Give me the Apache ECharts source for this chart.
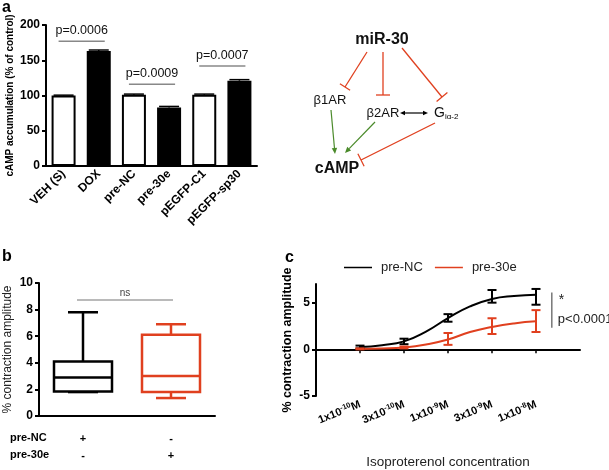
<!DOCTYPE html>
<html><head><meta charset="utf-8">
<script src="https://cdn.jsdelivr.net/npm/echarts@6/dist/echarts.min.js"></script>
<style>html,body{margin:0;padding:0;background:#fff}#c{width:609px;height:470px}</style>
</head><body><div id="c"></div>
<script>
// ---------- Panel a data ----------
const aCategories = ['VEH (S)', 'DOX', 'pre-NC', 'pre-30e', 'pEGFP-C1', 'pEGFP-sp30'];
const aValues = [100, 163, 101, 83, 101, 121];
const aErrors = [0.5, 1.5, 1, 1.5, 1, 1.5];
const aFilled = [false, true, false, true, false, true];
const aSigPairs = [[0, 1], [2, 3], [4, 5]];
const aSigHeights = [177, 116, 142];
const aSigLabels = ['p=0.0006', 'p=0.0009', 'p=0.0007'];

// ---------- Panel b data ----------
const bGroups = ['pre-NC', 'pre-30e'];
const bBoxes = [[1.8, 1.85, 2.9, 4.1, 7.8], [1.35, 1.8, 3.0, 6.1, 6.9]];
const bRowNC = ['+', '-'];
const bRow30e = ['-', '+'];
const bNsHeight = 8.72;

// ---------- Panel c data ----------
const cConcMantissa = ['1x10', '3x10', '1x10', '3x10', '1x10'];
const cConcExponent = ['-10', '-10', '-9', '-9', '-8'];
const cMeansNC = [0.25, 0.85, 3.4, 5.5, 5.85];
const cLoNC = [0.1, 0.55, 2.96, 5.0, 4.78];
const cHiNC = [0.4, 1.14, 3.77, 6.36, 6.47];
const cMeans30e = [0.05, 0.2, 1.1, 2.45, 3.05];
const cLo30e = [0.0, 0.1, 0.48, 1.64, 1.86];
const cHi30e = [0.1, 0.3, 1.75, 3.33, 4.2];
const cFitX = [0, 0.5, 1, 1.5, 2, 2.5, 3, 3.5, 4];
const cFitNC = [0.25, 0.45, 0.85, 1.9, 3.35, 4.6, 5.4, 5.72, 5.85];
const cFit30e = [0.03, 0.08, 0.2, 0.52, 1.05, 1.85, 2.4, 2.78, 3.0];

const RED = '#e0401f';
const FONT = 'Liberation Sans, Arial, sans-serif';

const chart = echarts.init(document.getElementById('c'), null, {renderer: 'canvas'});

function tbar(x1, y1, x2, y2, h) {
  const dx = x2 - x1, dy = y2 - y1, L = Math.hypot(dx, dy);
  const px = -dy / L * h, py = dx / L * h;
  return [
    {type: 'line', shape: {x1, y1, x2, y2}, style: {stroke: RED, lineWidth: 1.3}},
    {type: 'line', shape: {x1: x2 + px, y1: y2 + py, x2: x2 - px, y2: y2 - py}, style: {stroke: RED, lineWidth: 1.3}}
  ];
}
function arrowHead(tx, ty, ux, uy, size, color) {
  const bx = tx - ux * size, by = ty - uy * size;
  const px = -uy * size * 0.45, py = ux * size * 0.45;
  return {type: 'polygon', shape: {points: [[tx, ty], [bx + px, by + py], [bx - px, by - py]]}, style: {fill: color}};
}
function arrow(x1, y1, x2, y2, color, size, both) {
  const dx = x2 - x1, dy = y2 - y1, L = Math.hypot(dx, dy);
  const ux = dx / L, uy = dy / L;
  const out = [{type: 'line', shape: {x1: both ? x1 + ux * size : x1, y1: both ? y1 + uy * size : y1, x2: x2 - ux * size, y2: y2 - uy * size}, style: {stroke: color, lineWidth: 1.2}}];
  out.push(arrowHead(x2, y2, ux, uy, size, color));
  if (both) out.push(arrowHead(x1, y1, -ux, -uy, size, color));
  return out;
}

const diagram = [].concat(
  tbar(367, 52, 345, 87, 6),
  tbar(383, 52, 383, 95, 7),
  tbar(402, 48, 442, 97, 7),
  tbar(435, 123, 361, 160, 7),
  arrow(331, 110, 335, 154, '#4a8a2a', 6),
  arrow(375, 122, 345, 153, '#4a8a2a', 6),
  arrow(400, 113, 428, 113, '#000', 5, true),
  [
    {type: 'text', style: {text: 'miR-30', x: 382, y: 40, align: 'center', verticalAlign: 'middle', font: 'bold 16px ' + FONT, fill: '#111'}},
    {type: 'text', style: {text: 'β1AR', x: 330, y: 100, align: 'center', verticalAlign: 'middle', font: '13px ' + FONT, fill: '#111'}},
    {type: 'text', style: {text: 'β2AR', x: 383, y: 113, align: 'center', verticalAlign: 'middle', font: '13px ' + FONT, fill: '#111'}},
    {type: 'text', style: {text: '{g|G}{s|iα-2}', x: 434, y: 113, verticalAlign: 'middle', rich: {g: {fontSize: 14, fontFamily: FONT, fill: '#111', color: '#111'}, s: {fontSize: 8, fontFamily: FONT, color: '#111', padding: [8, 0, 0, 0]}}}},
    {type: 'text', style: {text: 'cAMP', x: 337, y: 169, align: 'center', verticalAlign: 'middle', font: 'bold 16px ' + FONT, fill: '#111'}}
  ]
);

const panelLabels = [
  {type: 'text', style: {text: 'a', x: 2, y: 0, font: 'bold 16px ' + FONT, fill: '#000'}},
  {type: 'text', style: {text: 'b', x: 2, y: 249, font: 'bold 16px ' + FONT, fill: '#000'}},
  {type: 'text', style: {text: 'c', x: 285, y: 250, font: 'bold 16px ' + FONT, fill: '#000'}},
  {type: 'text', style: {text: bGroups[0], x: 10, y: 438, verticalAlign: 'middle', font: 'bold 11px ' + FONT, fill: '#000'}},
  {type: 'text', style: {text: bGroups[1], x: 10, y: 455, verticalAlign: 'middle', font: 'bold 11px ' + FONT, fill: '#000'}}
];

const axisLineStyle = {color: '#000', width: 2};
const boldLabel = {color: '#000', fontWeight: 'bold', fontSize: 12, fontFamily: FONT};

const option = {
  animation: false,
  backgroundColor: '#fff',
  textStyle: {fontFamily: FONT},
  grid: [
    {left: 46, top: 25, width: 211, height: 141},
    {left: 39, top: 283, width: 176, height: 133},
    {left: 316, top: 284, width: 264, height: 182}
  ],
  legend: {
    data: ['pre-NC', 'pre-30e'], left: 339, top: 256, icon: 'rect', itemWidth: 28, itemHeight: 1.5, itemGap: 12,
    textStyle: {fontSize: 13, color: '#222', fontFamily: FONT, padding: [0, 0, 0, 4]}
  },
  xAxis: [
    {gridIndex: 0, type: 'category', data: aCategories, boundaryGap: true,
     axisLine: {lineStyle: axisLineStyle}, axisTick: {show: false},
     axisLabel: Object.assign({rotate: 45, interval: 0, margin: 6}, boldLabel)},
    {gridIndex: 1, type: 'category', data: bGroups, boundaryGap: true,
     axisLine: {lineStyle: axisLineStyle}, axisTick: {alignWithLabel: true, length: 5, lineStyle: {width: 2, color: '#000'}},
     axisLabel: {margin: 14, interval: 0, color: '#000', fontWeight: 'bold', fontSize: 11, lineHeight: 17,
       formatter: (v, i) => bRowNC[i] + '\n' + bRow30e[i]}},
    {gridIndex: 2, type: 'value', min: -1, max: 5, interval: 1,
     axisLine: {onZero: true, lineStyle: axisLineStyle},
     axisTick: {length: 4, lineStyle: {width: 1.5, color: '#000'}, customValues: [0, 1, 2, 3, 4]},
     splitLine: {show: false},
     axisLabel: {rotate: 22, margin: 8, color: '#000', customValues: [0, 1, 2, 3, 4],
       formatter: v => { const i = Math.round(v); return cConcMantissa[i] + '{s|' + cConcExponent[i] + '}M'; },
       fontWeight: 'bold', fontSize: 11, fontFamily: FONT, lineHeight: 14,
       rich: {s: {fontSize: 7.5, fontWeight: 'bold', fontFamily: FONT, color: '#000', verticalAlign: 'top', lineHeight: 8}}},
     name: 'Isoproterenol concentration', nameLocation: 'middle', nameGap: 59,
     nameTextStyle: {fontSize: 13.5, color: '#222', fontFamily: FONT}}
  ],
  yAxis: [
    {gridIndex: 0, type: 'value', min: 0, max: 200, interval: 50,
     axisLine: {show: true, lineStyle: axisLineStyle}, axisTick: {show: true, length: 4, lineStyle: {width: 2, color: '#000'}},
     splitLine: {show: false}, axisLabel: Object.assign({margin: 6}, boldLabel),
     name: 'cAMP accumulation (% of control)', nameLocation: 'middle', nameGap: 31,
     nameTextStyle: {fontSize: 10, fontWeight: 'bold', color: '#000', fontFamily: FONT}},
    {gridIndex: 1, type: 'value', min: 0, max: 10, interval: 2,
     axisLine: {show: true, lineStyle: axisLineStyle}, axisTick: {show: true, length: 4, lineStyle: {width: 2, color: '#000'}},
     splitLine: {show: false}, axisLabel: Object.assign({margin: 6}, boldLabel),
     name: '% contraction amplitude', nameLocation: 'middle', nameGap: 25,
     nameTextStyle: {fontSize: 12, color: '#222', fontFamily: FONT}},
    {gridIndex: 2, type: 'value', min: -5, max: 7,
     axisLine: {show: true, onZero: false, lineStyle: axisLineStyle},
     axisTick: {show: true, length: 4, lineStyle: {width: 2, color: '#000'}, customValues: [-5, 0, 5]},
     splitLine: {show: false},
     axisLabel: Object.assign({margin: 6, customValues: [-5, 0, 5]}, boldLabel),
     name: '% contraction amplitude', nameLocation: 'middle', nameGap: 22,
     nameTextStyle: {fontSize: 12.5, fontWeight: 'bold', color: '#000', fontFamily: FONT}}
  ],
  graphic: panelLabels.concat(diagram),
  series: [
    // Panel a bars
    {type: 'bar', xAxisIndex: 0, yAxisIndex: 0, barWidth: 24,
     data: aValues.map((v, i) => ({value: v, itemStyle: {color: aFilled[i] ? '#000' : '#fff', borderColor: '#000', borderWidth: 2}}))},
    // Panel a error bars
    {type: 'custom', xAxisIndex: 0, yAxisIndex: 0, z: 5,
     data: aValues.map((v, i) => [i, v, aErrors[i]]),
     renderItem(params, api) {
       const p0 = api.coord([api.value(0), api.value(1)]);
       const p1 = api.coord([api.value(0), api.value(1) + api.value(2)]);
       return {type: 'group', children: [
         {type: 'line', shape: {x1: p0[0], y1: p0[1], x2: p1[0], y2: p1[1]}, style: {stroke: '#000', lineWidth: 1.5}},
         {type: 'line', shape: {x1: p1[0] - 10, y1: p1[1], x2: p1[0] + 10, y2: p1[1]}, style: {stroke: '#000', lineWidth: 1.5}}
       ]};
     }},
    // Panel a significance
    {type: 'custom', xAxisIndex: 0, yAxisIndex: 0, z: 6,
     data: aSigPairs.map((p, i) => [p[0], p[1], aSigHeights[i]]),
     renderItem(params, api) {
       const a = api.coord([api.value(0), api.value(2)]);
       const b = api.coord([api.value(1), api.value(2)]);
       const x1 = a[0] - 5, x2 = b[0] + 6;
       return {type: 'group', children: [
         {type: 'line', shape: {x1, y1: a[1], x2, y2: a[1]}, style: {stroke: '#888', lineWidth: 1.5}},
         {type: 'text', style: {text: aSigLabels[params.dataIndex], x: (x1 + x2) / 2, y: a[1] - 4, align: 'center', verticalAlign: 'bottom', font: '12.5px ' + FONT, fill: '#111'}}
       ]};
     }},
    // Panel b boxes
    {type: 'custom', xAxisIndex: 1, yAxisIndex: 1,
     data: bBoxes.map((b, i) => [i].concat(b)),
     renderItem(params, api) {
       const i = api.value(0);
       const color = params.dataIndex === 0 ? '#000' : RED;
       const pMin = api.coord([i, api.value(1)]), pQ1 = api.coord([i, api.value(2)]), pMed = api.coord([i, api.value(3)]),
             pQ3 = api.coord([i, api.value(4)]), pMax = api.coord([i, api.value(5)]);
       const x = pMin[0], hw = 29, cw = 15;
       const st = {stroke: color, lineWidth: 2.5, fill: 'none'};
       return {type: 'group', children: [
         {type: 'line', shape: {x1: x, y1: pQ3[1], x2: x, y2: pMax[1]}, style: st},
         {type: 'line', shape: {x1: x - cw, y1: pMax[1], x2: x + cw, y2: pMax[1]}, style: st},
         {type: 'line', shape: {x1: x, y1: pQ1[1], x2: x, y2: pMin[1]}, style: st},
         {type: 'line', shape: {x1: x - cw, y1: pMin[1], x2: x + cw, y2: pMin[1]}, style: st},
         {type: 'rect', shape: {x: x - hw, y: pQ3[1], width: 2 * hw, height: pQ1[1] - pQ3[1]}, style: {stroke: color, lineWidth: 2.5, fill: '#fff'}},
         {type: 'line', shape: {x1: x - hw, y1: pMed[1], x2: x + hw, y2: pMed[1]}, style: st}
       ]};
     }},
    // Panel b ns
    {type: 'custom', xAxisIndex: 1, yAxisIndex: 1,
     data: [[0, 1, bNsHeight]],
     renderItem(params, api) {
       const a = api.coord([api.value(0), api.value(2)]);
       const b = api.coord([api.value(1), api.value(2)]);
       const x1 = a[0] - 6, x2 = b[0] + 2;
       return {type: 'group', children: [
         {type: 'line', shape: {x1, y1: a[1], x2, y2: a[1]}, style: {stroke: '#777', lineWidth: 1.2}},
         {type: 'text', style: {text: 'ns', x: (x1 + x2) / 2, y: a[1] - 2, align: 'center', verticalAlign: 'bottom', font: '10px ' + FONT, fill: '#444'}}
       ]};
     }},
    // Panel c fitted curves
    {name: 'pre-NC', type: 'line', xAxisIndex: 2, yAxisIndex: 2, smooth: true, showSymbol: false, symbol: 'none',
     lineStyle: {color: '#000', width: 2}, itemStyle: {color: '#000'},
     data: cFitX.map((x, i) => [x, cFitNC[i]])},
    {name: 'pre-30e', type: 'line', xAxisIndex: 2, yAxisIndex: 2, smooth: true, showSymbol: false, symbol: 'none',
     lineStyle: {color: RED, width: 2}, itemStyle: {color: RED},
     data: cFitX.map((x, i) => [x, cFit30e[i]])},
    // Panel c error bars
    {type: 'custom', xAxisIndex: 2, yAxisIndex: 2, z: 4,
     data: cMeansNC.map((m, i) => [i, cLoNC[i], cHiNC[i], 0]).concat(cMeans30e.map((m, i) => [i, cLo30e[i], cHi30e[i], 1])),
     renderItem(params, api) {
       const color = api.value(3) === 0 ? '#000' : RED;
       const lo = api.coord([api.value(0), api.value(1)]), hi = api.coord([api.value(0), api.value(2)]);
       const x = lo[0], cw = 4.5, st = {stroke: color, lineWidth: 2};
       return {type: 'group', children: [
         {type: 'line', shape: {x1: x, y1: lo[1], x2: x, y2: hi[1]}, style: st},
         {type: 'line', shape: {x1: x - cw, y1: lo[1], x2: x + cw, y2: lo[1]}, style: st},
         {type: 'line', shape: {x1: x - cw, y1: hi[1], x2: x + cw, y2: hi[1]}, style: st}
       ]};
     }},
    // Panel c significance bracket
    {type: 'custom', xAxisIndex: 2, yAxisIndex: 2,
     data: [[4.36, 2.3, 6.1]],
     renderItem(params, api) {
       const lo = api.coord([api.value(0), api.value(1)]), hi = api.coord([api.value(0), api.value(2)]);
       return {type: 'group', children: [
         {type: 'line', shape: {x1: lo[0], y1: lo[1], x2: hi[0], y2: hi[1]}, style: {stroke: '#555', lineWidth: 1.2}},
         {type: 'text', style: {text: '*', x: lo[0] + 7, y: hi[1] + 8, verticalAlign: 'middle', font: '14px ' + FONT, fill: '#222'}},
         {type: 'text', style: {text: 'p<0.0001', x: lo[0] + 6, y: hi[1] + 27, verticalAlign: 'middle', font: '13px ' + FONT, fill: '#222'}}
       ]};
     }}
  ]
};
chart.setOption(option);
</script>
</body></html>
